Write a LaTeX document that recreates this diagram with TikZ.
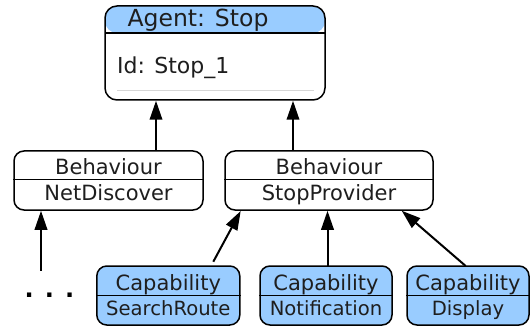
\documentclass[tikz,border=0pt]{standalone}
\usepackage{fontspec}
\setmainfont{DejaVu Sans}
\usetikzlibrary{arrows.meta,calc}
\definecolor{capblue}{HTML}{99CCFF}
\definecolor{ink}{HTML}{1E1E1E}
\definecolor{rule}{HTML}{D6D6D6}
\begin{document}
\begin{tikzpicture}[x=1pt,y=-1pt,
  box/.style={draw=black,line width=1.5pt,rounded corners=10pt,fill=white,inner sep=0pt},
  capbox/.style={box,fill=capblue},
  divider/.style={draw=black,line width=1pt},
  lbl/.style={anchor=base,inner sep=0pt,text=ink,font=\fontsize{21}{24}\selectfont},
  small/.style={lbl,font=\fontsize{19.6}{22}\selectfont},
  arr/.style={-{Triangle[length=19pt,width=12.5pt]},line width=2pt,draw=black}
]
\useasboundingbox (0,0) rectangle (530,326);

% Agent box
\node[box,rounded corners=12pt,minimum width=220pt,minimum height=94pt,
  path picture={
    \fill[capblue] (path picture bounding box.north west) rectangle ($(path picture bounding box.north east)+(0,27)$);
    \draw[line width=1.5pt] ($(path picture bounding box.north west)+(0,27)$) -- ($(path picture bounding box.north east)+(0,27)$);
  }] (agent) at (215,53) {};
\node[lbl,font=\fontsize{23.5}{26}\selectfont] (agentT) at (198,27) {Agent: Stop};
\node[lbl,anchor=base west,font=\fontsize{22}{25}\selectfont] (agentId) at (117,74) {Id: Stop\_1};
\draw[rule,line width=1pt] (117,91) -- (314,91);

% Behaviours
\node[box,minimum width=189pt,minimum height=59pt] (nd) at (108.5,180.5) {};
\draw[divider] ($(nd.west)+(0,-1.2)$) -- ($(nd.east)+(0,-1.2)$);
\node[lbl] (ndA) at (108.5,175) {Behaviour};
\node[lbl] (ndB) at (108.5,200) {NetDiscover};

\node[box,minimum width=208pt,minimum height=59pt] (sp) at (329,180.5) {};
\draw[divider] ($(sp.west)+(0,-1.2)$) -- ($(sp.east)+(0,-1.2)$);
\node[lbl] (spA) at (329,175) {Behaviour};
\node[lbl] (spB) at (329,200) {StopProvider};

% Capabilities
\node[capbox,minimum width=143pt,minimum height=59pt] (sr) at (168.3,295.5) {};
\draw[divider] (sr.west) -- (sr.east);
\node[lbl] (srA) at (168.3,290.7) {Capability};
\node[small] (srB) at (168.3,315) {SearchRoute};

\node[capbox,minimum width=132pt,minimum height=59pt] (nt) at (326,295.5) {};
\draw[divider] (nt.west) -- (nt.east);
\node[lbl] (ntA) at (326,290.7) {Capability};
\node[small] (ntB) at (326,315) {Notification};

\node[capbox,minimum width=122pt,minimum height=59pt] (dp) at (468,295.5) {};
\draw[divider] (dp.west) -- (dp.east);
\node[lbl] (dpA) at (468,290.7) {Capability};
\node[small] (dpB) at (468,315) {Display};

% dots
\node[anchor=base,inner sep=0pt,text=black,font=\fontsize{24}{26}\bfseries] (dots) at (49.5,297) {. . .};

% connectors
\coordinate (c1) at (156,151);
\coordinate (c2) at (293,151);
\draw[arr] (c1) -- (c1 |- agent.south);
\draw[arr] (c2) -- (c2 |- agent.south);

\coordinate (c3) at (41,270.5);
\draw[arr] (c3) -- (c3 |- nd.south);

\coordinate (c4) at (213.3,261.7);
\coordinate (c4e) at (240.7,211);
\draw[arr] (c4) -- (c4e);

\coordinate (c5) at (327.5,266);
\draw[arr] (c5) -- (c5 |- sp.south);

\coordinate (c6) at (465.7,266);
\coordinate (c6e) at (401.7,210.7);
\draw[arr] (c6) -- (c6e);
\end{tikzpicture}
\end{document}
